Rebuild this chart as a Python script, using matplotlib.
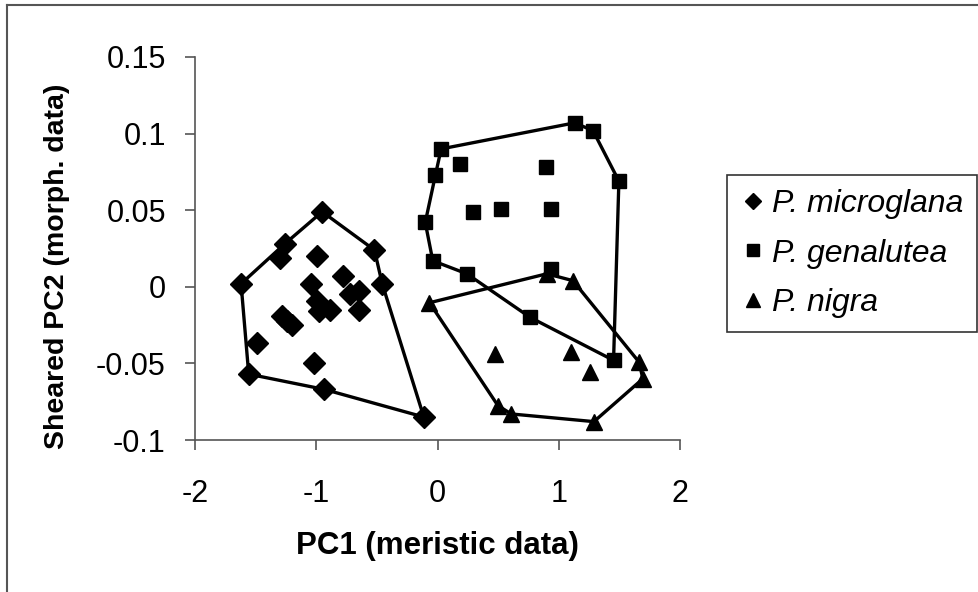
import matplotlib
matplotlib.use("Agg")
import matplotlib.pyplot as plt
from matplotlib.lines import Line2D

plt.rcParams['font.family'] = ['Liberation Sans', 'DejaVu Sans']

# P. microglana (diamonds)
micro_x = [-1.62, -1.557, -0.932, -0.113, -0.456, -0.52, -0.951, -1.26, -1.30,
           -0.996, -0.781, -1.04, -0.996, -0.979, -0.886, -0.72, -0.644, -0.649,
           -1.28, -1.24, -1.20, -1.49, -1.02]
micro_y = [0.002, -0.057, -0.067, -0.085, 0.002, 0.024, 0.049, 0.028, 0.019,
           0.020, 0.007, 0.002, -0.009, -0.0155, -0.015, -0.0046, -0.003, -0.015,
           -0.019, -0.022, -0.025, -0.037, -0.050]
micro_hull = [0, 1, 2, 3, 4, 5, 6, 7, 0]

# P. genalutea (squares)
gena_x = [0.030, 1.13, 1.282, 1.496, 1.452, 0.765, 0.242, -0.039, -0.101, -0.017,
          0.182, 0.897, 0.291, 0.525, 0.938, 0.938]
gena_y = [0.090, 0.107, 0.102, 0.069, -0.048, -0.020, 0.0085, 0.017, 0.042, 0.073,
          0.080, 0.078, 0.049, 0.0505, 0.0505, 0.0117]
gena_hull = [0, 1, 2, 3, 4, 5, 6, 7, 8, 9, 0]

# P. nigra (triangles)
nigra_x = [-0.066, 0.902, 1.117, 1.661, 1.694, 1.29, 0.608, 0.498,
           0.476, 1.103, 1.254]
nigra_y = [-0.0104, 0.0085, 0.004, -0.049, -0.060, -0.088, -0.083, -0.0775,
           -0.044, -0.0426, -0.0557]
nigra_hull = [0, 1, 2, 3, 4, 5, 6, 7, 0]

labels = ['P. microglana', 'P. genalutea', 'P. nigra']
x_ticks = [-2, -1, 0, 1, 2]
y_ticks = [-0.1, -0.05, 0, 0.05, 0.1, 0.15]
y_tick_labels = ['-0.1', '-0.05', '0', '0.05', '0.1', '0.15']

fig = plt.figure(figsize=(9.79, 5.92), dpi=100)
ax = fig.add_axes([195 / 979, 1 - 440 / 592, 485 / 979, 383 / 592])

groups = [(micro_x, micro_y, micro_hull, 'D', 11),
          (gena_x, gena_y, gena_hull, 's', 10),
          (nigra_x, nigra_y, nigra_hull, '^', 11.5)]
for xs, ys, hull, mk, ms in groups:
    ax.plot([xs[i] for i in hull], [ys[i] for i in hull], color='black', lw=2.4,
            zorder=2)
    ax.plot(xs, ys, linestyle='none', marker=mk, markersize=ms, color='black',
            zorder=3)

ax.set_xlim(-2, 2)
ax.set_ylim(-0.1, 0.15)
ax.set_xticks(x_ticks)
ax.set_xticklabels([str(t) for t in x_ticks])
ax.set_yticks(y_ticks)
ax.set_yticklabels(y_tick_labels)

for s in ['top', 'right']:
    ax.spines[s].set_visible(False)
for s in ['left', 'bottom']:
    ax.spines[s].set_color('#555555')
    ax.spines[s].set_linewidth(1.2)
ax.tick_params(axis='both', direction='out', length=7, width=1.2, color='#555555',
               labelsize=22)
ax.tick_params(axis='y', pad=14)
ax.tick_params(axis='x', pad=21)

ax.set_xlabel('PC1 (meristic data)', fontsize=22.5, fontweight='bold', labelpad=16)
ax.set_ylabel('Sheared PC2 (morph. data)', fontsize=20.5, fontweight='bold')
ax.yaxis.set_label_coords(-0.258, 0.454)

handles = [Line2D([], [], linestyle='none', marker='D', markersize=8, color='black'),
           Line2D([], [], linestyle='none', marker='s', markersize=8, color='black'),
           Line2D([], [], linestyle='none', marker='^', markersize=10, color='black')]
leg = ax.legend(handles, labels, loc='upper left',
                bbox_to_anchor=(727 / 979, 1 - 175 / 592),
                bbox_transform=fig.transFigure, borderaxespad=0,
                fancybox=False, framealpha=1, edgecolor='#333333',
                prop={'style': 'italic', 'size': 23}, handlelength=0.7,
                handletextpad=0.25, labelspacing=0.6, borderpad=0.45)
leg.get_frame().set_linewidth(1.2)

# outer border (left and top edges only)
fig.add_artist(Line2D([7 / 979, 7 / 979], [0, 1 - 5 / 592], transform=fig.transFigure,
                      color='#555555', lw=1.5))
fig.add_artist(Line2D([7 / 979, 1], [1 - 5 / 592, 1 - 5 / 592],
                      transform=fig.transFigure, color='#555555', lw=1.5))

fig.savefig('out.png', dpi=100)
